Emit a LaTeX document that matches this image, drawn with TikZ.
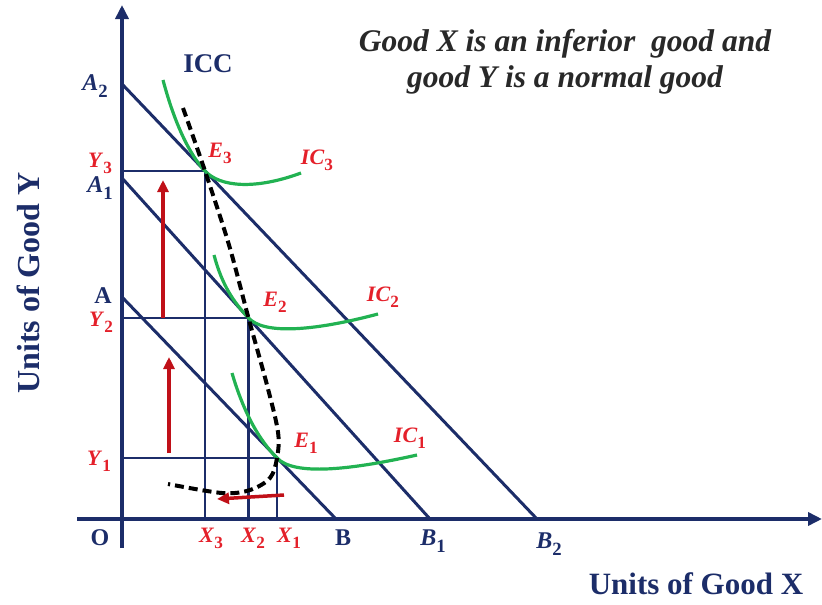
\documentclass[tikz,border=0pt]{standalone}
\usepackage{fontspec}
\usepackage{graphicx}
\setmainfont{Liberation Serif}
\usetikzlibrary{arrows.meta}
\definecolor{navy}{RGB}{28,45,105}
\definecolor{labred}{RGB}{228,32,42}
\definecolor{arrred}{RGB}{192,16,24}
\definecolor{icgreen}{RGB}{34,178,82}
\definecolor{titlegray}{RGB}{40,40,40}
\newcommand{\lsub}[2]{\textit{#1}\raisebox{-0.28em}{\scalebox{0.78}{#2}}}
\begin{document}
\begin{tikzpicture}[x=1pt,y=-1pt,
  axisline/.style={navy,line width=4pt,-{Triangle[length=14pt,width=13pt]}},
  budget/.style={navy,line width=3pt},
  guide/.style={navy,line width=2.8pt},
  icline/.style={icgreen,line width=3.2pt},
  iccline/.style={black,line width=4pt,dash pattern=on 9pt off 5pt},
  shiftarrow/.style={arrred,line width=3.5pt,-{Triangle[length=12pt,width=11pt]}},
  redlab/.style={text=labred,inner sep=0pt,font=\fontsize{22}{26}\selectfont\bfseries},
  navylab/.style={text=navy,inner sep=0pt,font=\fontsize{24}{28}\selectfont\bfseries},
  navyrm/.style={text=navy,inner sep=0pt,font=\fontsize{24}{28}\selectfont\bfseries}]
\useasboundingbox (0,0) rectangle (822,605);

% key points
\coordinate (O) at (122,519);
\coordinate (Ytop) at (122,5);
\coordinate (Ybot) at (122,548);
\coordinate (Xl) at (77,519);
\coordinate (Xr) at (822,519);
\coordinate (A2) at (122,84);
\coordinate (B2) at (537,519);
\coordinate (A1) at (122,178);
\coordinate (B1) at (430,519);
\coordinate (A) at (122,297);
\coordinate (B) at (336,519);
\coordinate (E3) at (205,171);
\coordinate (E2) at (248.5,318);
\coordinate (E1) at (277,458);
\coordinate (Y3) at (122,171);
\coordinate (Y2) at (122,318);
\coordinate (Y1) at (122,458);
\coordinate (X3) at (205,519);
\coordinate (X2) at (248.5,519);
\coordinate (X1) at (277,519);

% guide lines
\draw[guide] (Y3) -- (E3) -- (X3);
\draw[guide] (Y2) -- (E2) -- (X2);
\draw[guide] (Y1) -- (E1) -- (X1);

% budget lines
\draw[budget] (A2) -- (B2);
\draw[budget] (A1) -- (B1);
\draw[budget] (A) -- (B);

% axes
\draw[axisline] (Ybot) -- (Ytop);
\draw[axisline] (Xl) -- (Xr);

% indifference curves
\draw[icline] (163,80) .. controls (175,125) and (190,155) .. (E3)
  .. controls (220,187) and (255,190) .. (301,173);
\draw[icline] (214,255) .. controls (222,285) and (233.5,302) .. (E2)
  .. controls (263.5,334) and (310,332) .. (378,314);
\draw[icline] (232,373) .. controls (244,414) and (260,441) .. (E1)
  .. controls (294,476) and (350,470) .. (417,455);

% ICC
\draw[iccline] plot[smooth,tension=0.55] coordinates {(183,108) (205,171) (229,245) (248.5,318) (267,385) (278,432) (277,458) (270,478) (250,490) (222,493) (168,484)};

% shift arrows
\coordinate (ra1s) at (169,453);
\coordinate (ra1e) at (169,357);
\coordinate (ra2s) at (163,318);
\coordinate (ra2e) at (163,180);
\coordinate (ra3s) at (284,495);
\coordinate (ra3e) at (217,499);
\draw[shiftarrow] (ra1s) -- (ra1e);
\draw[shiftarrow] (ra2s) -- (ra2e);
\draw[shiftarrow] (ra3s) -- (ra3e);

% labels
\node[navylab] (lA2) at (95,86) {\lsub{A}{2}};
\node[navylab] (lA1) at (100,188) {\lsub{A}{1}};
\node[navyrm] (lA) at (103,296) {A};
\node[navyrm] (lO) at (100,538) {O};
\node[navyrm] (lB) at (343,538) {B};
\node[navylab] (lB1) at (433,541) {\lsub{B}{1}};
\node[navylab] (lB2) at (549,544) {\lsub{B}{2}};
\node[navyrm,font=\fontsize{27}{30}\selectfont\bfseries] (lICC) at (208,64) {ICC};

\node[redlab] (lY3) at (100,163) {\lsub{Y}{3}};
\node[redlab] (lY2) at (101,322) {\lsub{Y}{2}};
\node[redlab] (lY1) at (99,461) {\lsub{Y}{1}};
\node[redlab] (lE3) at (220,153) {\lsub{E}{3}};
\node[redlab] (lE2) at (275,302) {\lsub{E}{2}};
\node[redlab] (lE1) at (306,443) {\lsub{E}{1}};
\node[redlab] (lIC3) at (317,160) {\lsub{IC}{3}};
\node[redlab] (lIC2) at (383,297) {\lsub{IC}{2}};
\node[redlab] (lIC1) at (410,438) {\lsub{IC}{1}};
\node[redlab] (lX3) at (211,538) {\lsub{X}{3}};
\node[redlab] (lX2) at (253,538) {\lsub{X}{2}};
\node[redlab] (lX1) at (289,538) {\lsub{X}{1}};

\node[text=navy,font=\fontsize{31}{36}\selectfont\bfseries,inner sep=0pt] (xlab) at (696,584) {Units of Good X};
\node[text=navy,font=\fontsize{32}{36}\selectfont\bfseries,inner sep=0pt,rotate=90] (ylab) at (28,283) {Units of Good Y};

\node[text=titlegray,font=\fontsize{31.5}{36}\selectfont\bfseries\itshape,align=center,inner sep=0pt] (title) at (565,62) {Good X is an inferior\ \ good and\\good Y is a normal good};
\end{tikzpicture}
\end{document}
